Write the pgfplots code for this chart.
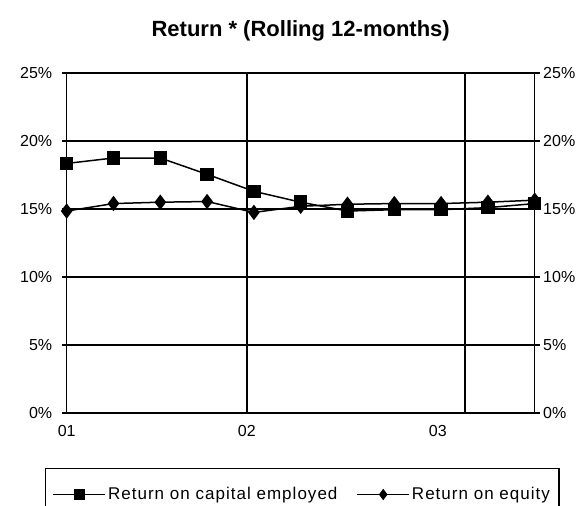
\documentclass[border=0pt]{standalone}
\usepackage{pgfplots}
\pgfplotsset{compat=1.18}
\usepackage{fontspec}
\setmainfont{Liberation Sans}

\pgfplotstableread{
x roce roe
0  18.35 14.85
1  18.75 15.40
2  18.75 15.50
3  17.55 15.55
4  16.30 14.75
5  15.50 15.20
6  14.85 15.35
7  14.95 15.40
8  14.95 15.40
9  15.10 15.50
10 15.40 15.65
}\datatable

\begin{document}
\begin{tikzpicture}
\useasboundingbox (-66.7pt,-93pt) rectangle (520.3pt,413pt);
\begin{axis}[
  at={(0pt,0pt)}, anchor=south west,
  width=468pt, height=340pt, scale only axis,
  xmin=0, xmax=10, ymin=0, ymax=25,
  ytick={0,5,10,15,20,25},
  yticklabels={0\%,5\%,10\%,15\%,20\%,25\%},
  ytick pos=left,
  ymajorgrids,
  grid style={black, line width=1.3pt},
  xtick={0,3.85,7.93}, xticklabels={01,02,03},
  major x tick style={draw=none},
  extra x ticks={3.85,8.51}, extra x tick labels={},
  extra x tick style={grid=major, major tick length=0pt},
  axis line style={black, line width=1.5pt},
  tick style={black, line width=1.2pt},
  tick align=outside, major tick length=5pt,
  ticklabel style={font=\fontsize{16pt}{18pt}\selectfont},
  yticklabel style={xshift=-6pt},
  xticklabel style={yshift=-4pt},
  title={\bfseries Return * (Rolling 12-months)},
  title style={font=\fontsize{22pt}{24pt}\selectfont, yshift=22pt},
  legend columns=2,
  legend style={at={(axis description cs:-0.0464,-0.1618)}, anchor=north west,
    draw=black, line width=1.2pt, inner xsep=7pt, inner ysep=17pt,
    font=\fontsize{17pt}{19pt}\selectfont\addfontfeature{LetterSpace=6},
    /tikz/every even column/.append style={column sep=17pt}},
  legend image code/.code={%
    \draw[mark repeat=2,mark phase=2,#1,mark size=4.5pt]
      plot coordinates {(0pt,0pt) (26pt,0pt) (52pt,0pt)};},
]
\addplot[black, line width=1.5pt, mark=square*, mark size=6pt, mark options={solid}]
  table[x=x, y=roce] {\datatable};
\addlegendentry{Return on capital employed}
\addplot[black, line width=1.5pt, mark=diamond*, mark size=6.5pt, mark options={solid}]
  table[x=x, y=roe] {\datatable};
\addlegendentry{Return on equity}
\end{axis}
\begin{axis}[
  at={(0pt,0pt)}, anchor=south west,
  width=468pt, height=340pt, scale only axis,
  xmin=0, xmax=10, ymin=0, ymax=25,
  axis x line=none, axis y line*=right,
  ytick={0,5,10,15,20,25},
  yticklabels={0\%,5\%,10\%,15\%,20\%,25\%},
  axis line style={black, line width=1.5pt},
  tick style={black, line width=1.2pt},
  tick align=outside, major tick length=5pt,
  ticklabel style={font=\fontsize{16pt}{18pt}\selectfont},
]
\end{axis}
\end{tikzpicture}
\end{document}
